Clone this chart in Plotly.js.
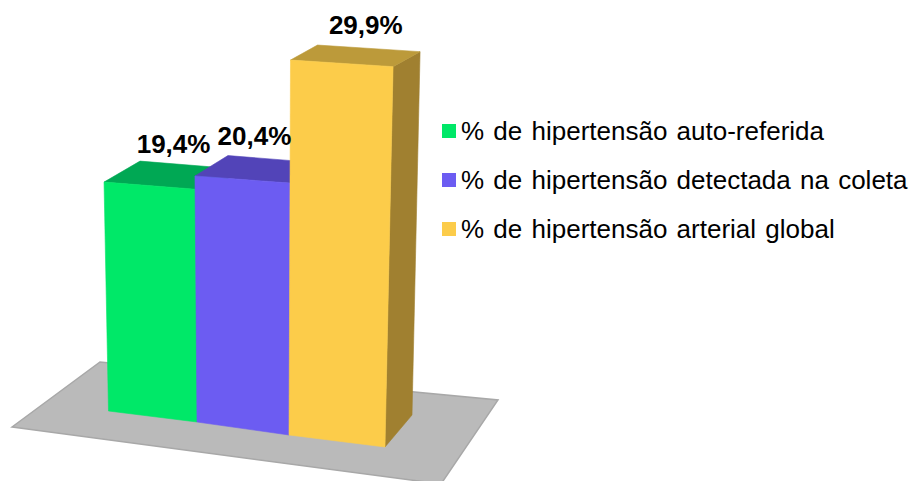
<!DOCTYPE html>
<html>
<head>
<meta charset="utf-8">
<script src="https://cdn.plot.ly/plotly-3.0.1.min.js"></script>
<style>html,body{margin:0;padding:0;background:#fff}#c{width:912px;height:481px}
.annotation-text{word-spacing:2px}</style>
</head>
<body>
<div id="c"></div>
<script>
// ---- data ----
const seriesNames = ['% de hipertensão auto-referida', '% de hipertensão detectada na coleta', '% de hipertensão arterial global'];
const seriesValues = [19.4, 20.4, 29.9];
const valueLabels = ['<b>19,4%</b>', '<b>20,4%</b>', '<b>29,9%</b>'];

// ---- styles ----
const frontColors = ['#00E868', '#6C5CF2', '#FCCC4A'];
const topColors = ['#00A854', '#5244B8', '#BC9A3A'];
const sideColors = ['#00A854', '#5244B8', '#A08030'];
const FONT = 'Liberation Sans, Arial, sans-serif';

// ---- oblique projection of the 3D box onto the page ----
const edgeX = [108.5, 197, 289, 385];
const edgeY = [411, 422, 435, 447];
const leftScale = [11.8, 12.06, 12.54];
const rightScale = [12.0, 12.35, 12.72];
const lean = [-0.23, -0.1, 0.05, 0.27];
const depthX = [36, 33, 27, 27];

function project(edge, v, scale, depth) {
  const dy = -32 + 17 * (v / 29.9);
  return [edgeX[edge] + lean[edge] * v + depth * depthX[edge],
          edgeY[edge] - scale * v + depth * dy];
}
function poly(points, color, name) {
  const xs = points.map(p => p[0]), ys = points.map(p => p[1]);
  xs.push(xs[0]); ys.push(ys[0]);
  return {type: 'scatter', mode: 'lines', x: xs, y: ys, fill: 'toself', fillcolor: color,
          line: {width: 0.6, color: color}, hoverinfo: 'skip', showlegend: false, name: name};
}

const traces = [];
seriesValues.forEach((v, i) => {
  const sl = leftScale[i], sr = rightScale[i];
  const fl0 = project(i, 0, sl, 0), fr0 = project(i + 1, 0, sr, 0);
  const fl1 = project(i, v, sl, 0), fr1 = project(i + 1, v, sr, 0);
  const bl1 = project(i, v, sl, 1), br1 = project(i + 1, v, sr, 1);
  const br0 = project(i + 1, 0, sr, 1);
  traces.push(poly([fr0, br0, br1, fr1], sideColors[i], seriesNames[i]));
  traces.push(poly([fl1, bl1, br1, fr1], topColors[i], seriesNames[i]));
  traces.push(poly([fl0, fr0, fr1, fl1], frontColors[i], seriesNames[i]));
});

// value labels
const labelDX = [24, 12, 24];
const labelDY = [-39, -41, -36];
traces.push({
  type: 'scatter', mode: 'text', hoverinfo: 'skip', showlegend: false,
  x: seriesValues.map((v, i) => (project(i, v, leftScale[i], 0)[0] + project(i + 1, v, rightScale[i], 0)[0]) / 2 + labelDX[i]),
  y: seriesValues.map((v, i) => (project(i, v, leftScale[i], 0)[1] + project(i + 1, v, rightScale[i], 0)[1]) / 2 + labelDY[i]),
  text: valueLabels, textposition: 'middle center',
  textfont: {family: FONT, size: 26, color: '#000'}, cliponaxis: false
});

// legend
const legendX = 449, legendY = [131, 180, 229];
seriesNames.forEach((n, i) => {
  traces.push({
    type: 'scatter', mode: 'markers', x: [legendX], y: [legendY[i]], hoverinfo: 'skip', showlegend: false,
    marker: {symbol: 'square', size: 14, color: frontColors[i], line: {width: 0}}
  });
});

const layout = {
  width: 912, height: 481, margin: {l: 0, r: 0, t: 0, b: 0},
  paper_bgcolor: '#fff', plot_bgcolor: '#fff', showlegend: false,
  xaxis: {range: [0, 912], visible: false, fixedrange: true},
  yaxis: {range: [481, 0], visible: false, fixedrange: true},
  shapes: [{type: 'path', layer: 'below', xref: 'x', yref: 'y',
    path: 'M 12 427 L 100 362 L 498 400 L 441 484 Z',
    fillcolor: '#BABABA', line: {color: '#A8A8A8', width: 1.5}}],
  annotations: seriesNames.map((n, i) => ({
    xref: 'x', yref: 'y', x: 459, y: legendY[i], xanchor: 'left', yanchor: 'middle',
    text: n, showarrow: false, font: {family: FONT, size: 26, color: '#000'}
  }))
};
Plotly.newPlot('c', traces, layout, {displayModeBar: false, staticPlot: true});
</script>
</body>
</html>
